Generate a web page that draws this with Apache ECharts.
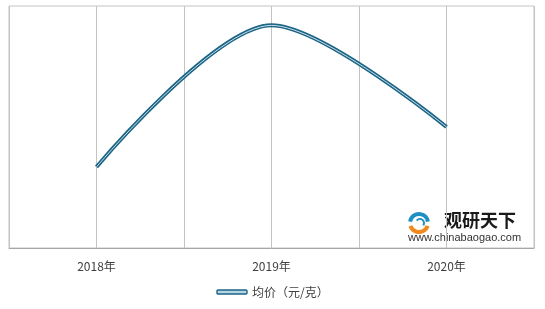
<!DOCTYPE html>
<html>
<head>
<meta charset="utf-8">
<script src="https://cdn.jsdelivr.net/npm/echarts@6/dist/echarts.min.js"></script>
<style>html,body{margin:0;padding:0;background:#fff}#c{width:545px;height:309px}</style>
</head>
<body>
<div id="c"></div>
<script>
const categories = ['2018年', '2019年', '2020年'];
const seriesName = '均价（元/克）';
const prices = [0.67, 1.84, 1.0];

const chart = echarts.init(document.getElementById('c'));
const font = '"Noto Sans CJK SC", "Microsoft YaHei", sans-serif';
chart.setOption({
  animation: false,
  textStyle: { fontFamily: font },
  grid: { left: 9, right: 11, top: 6, bottom: 61, show: true, borderColor: '#c3c3c3', borderWidth: 1 },
  xAxis: [
    {
      type: 'category', data: categories, boundaryGap: true,
      axisLine: { show: true, lineStyle: { color: '#a6a6a6', width: 1 } },
      axisTick: { show: false },
      splitLine: { show: false },
      axisLabel: { color: '#404040', fontSize: 12, margin: 12, fontFamily: font }
    },
    {
      type: 'value', min: 0, max: 6, interval: 1, position: 'bottom',
      axisLine: { show: false }, axisTick: { show: false }, axisLabel: { show: false },
      splitLine: { show: true, lineStyle: { color: '#c3c3c3', width: 1 } }
    }
  ],
  yAxis: {
    type: 'value', min: 0, max: 2, show: true,
    axisLine: { show: false }, axisTick: { show: false }, axisLabel: { show: false },
    splitLine: { show: false }
  },
  legend: {
    bottom: 6, left: 'center',
    data: [{ name: seriesName, icon: 'roundRect' }],
    itemWidth: 30, itemHeight: 4, itemGap: 10,
    itemStyle: { color: '#b6d6e6', borderColor: '#1d6585', borderWidth: 1.4 },
    textStyle: { color: '#404040', fontSize: 12, fontFamily: font }
  },
  series: [
    {
      name: seriesName, type: 'line', data: prices, smooth: 0.3,
      symbol: 'none', xAxisIndex: 0,
      lineStyle: { color: '#1d6585', width: 4 }
    },
    {
      name: 'inner', type: 'line', data: prices, smooth: 0.3,
      symbol: 'none', xAxisIndex: 0, silent: true,
      lineStyle: { color: '#c9e0ec', width: 1 }
    }
  ],
  graphic: [
    { type: 'arc', shape: { cx: 419, cy: 223, r: 9, startAngle: Math.PI * 1.05, endAngle: Math.PI * 1.95 }, style: { stroke: '#1f8fc4', lineWidth: 4, fill: null } },
    { type: 'arc', shape: { cx: 419, cy: 223, r: 9, startAngle: Math.PI * 0.1, endAngle: Math.PI * 0.9 }, style: { stroke: '#f08a1c', lineWidth: 4, fill: null } },
    { type: 'arc', shape: { cx: 420, cy: 223, r: 4, startAngle: Math.PI * 1.2, endAngle: Math.PI * 2.2 }, style: { stroke: '#1f8fc4', lineWidth: 2, fill: null } },
    { type: 'text', left: 444, top: 211, style: { text: '观研天下', fill: '#1a1a1a', fontSize: 18, fontWeight: 'bold', fontFamily: font } },
    { type: 'text', left: 408, top: 232, style: { text: 'www.chinabaogao.com', fill: '#333', fontSize: 11, fontFamily: 'Arial, "Liberation Sans", sans-serif' } }
  ]
});
</script>
</body>
</html>
